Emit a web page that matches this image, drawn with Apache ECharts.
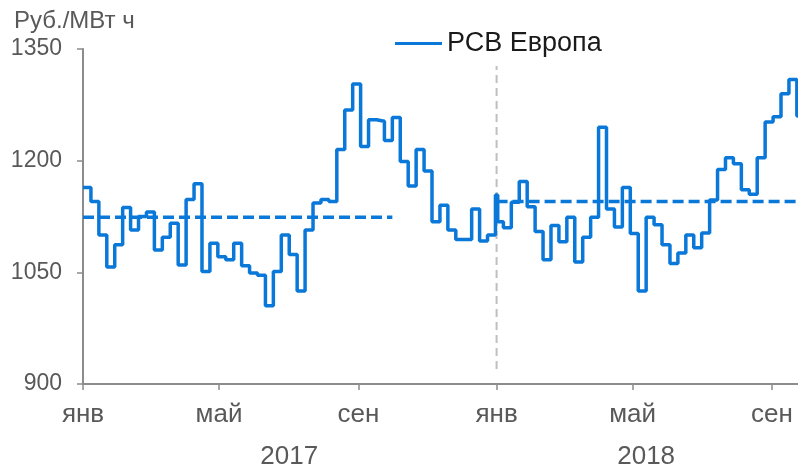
<!DOCTYPE html>
<html>
<head>
<meta charset="utf-8">
<script src="https://cdn.jsdelivr.net/npm/echarts@6/dist/echarts.min.js"></script>
<style>
  html, body { margin: 0; padding: 0; background: #fff; }
  #chart { width: 798px; height: 467px; }
</style>
</head>
<body>
<div id="chart"></div>
<script>
// weekly prices, first week starts 1 Jan 2017 (day 0), one value per 7 days
const weekPrices = [
  1164, 1145, 1100, 1057, 1087, 1137, 1107, 1125, 1131, 1080,
  1097, 1116, 1060, 1148, 1169, 1051, 1089, 1071, 1067, 1089,
  1059, 1049, 1046, 1005, 1051, 1100, 1074, 1025, 1107, 1143,
  1148, 1145, 1215, 1268, 1303, 1219, 1255, 1253, 1227, 1258,
  1199, 1166, 1215, 1186, 1118, 1140, 1107, 1094, 1094, 1135,
  1092, 1100, 1118, 1110, 1144, 1172, 1138, 1105, 1067, 1113,
  1091, 1124, 1064, 1097, 1124, 1245, 1135, 1111, 1164, 1102,
  1025, 1124, 1114, 1087, 1062, 1076, 1100, 1083, 1103, 1147,
  1188, 1204, 1196, 1161, 1155, 1204, 1252, 1259, 1290, 1309,
  1260
]
const WEEK = 7
// short new-year spike (days since 1 Jan 2017)
const spikeDays = [364, 366]
const spikeValues = [1154, 1118]

// yearly averages: [start day, end day, value]
const avg2017 = [0, 273, 1124]
const avg2018 = [365, 631, 1145]
const yearDivider = [365, 920, 1327]

const monthTickDays = [0, 120, 243, 365, 485, 608]
const monthLabels = ['янв', 'май', 'сен', 'янв', 'май', 'сен']
const yearLabelDays = [182, 497]
const yearLabels = ['2017', '2018']
const xMax = 631

const FONT = "'Liberation Sans', Arial, sans-serif"
const GREY = '#595959'
const AXIS = '#8c8c8c'
const BLUE = '#0a78d8'

const priceData = []
weekPrices.forEach((v, i) => {
  const d = i * WEEK
  if (d === 364) {
    spikeDays.forEach((sd, k) => priceData.push([sd, spikeValues[k]]))
  } else {
    priceData.push([d, v])
  }
})
priceData.push([xMax, weekPrices[weekPrices.length - 1]])

const chart = echarts.init(document.getElementById('chart'), null, { renderer: 'canvas' })

chart.setOption({
  animation: false,
  backgroundColor: '#fff',
  textStyle: { fontFamily: FONT },
  graphic: [{
    type: 'text', left: 14, top: 9,
    style: { text: 'Руб./МВт ч', font: `24px ${FONT}`, fill: GREY }
  }],
  legend: {
    left: 390, top: 25, itemWidth: 47, itemHeight: 14, itemGap: 10,
    data: [{ name: 'РСВ Европа', icon: 'path://M0,6 L47,6 L47,9 L0,9 Z' }],
    textStyle: { fontSize: 27, color: '#1a1a1a', fontFamily: FONT, padding: [0, 0, 0, 0] }
  },
  grid: { left: 83, right: 0, top: 49, bottom: 83, outerBoundsMode: 'none', containLabel: false },
  xAxis: [{
    type: 'value', min: 0, max: xMax,
    axisLine: { show: true, lineStyle: { color: AXIS, width: 2 } },
    axisTick: { show: true, length: 6, customValues: monthTickDays, lineStyle: { color: AXIS, width: 1.5 } },
    axisLabel: {
      customValues: monthTickDays, margin: 18, fontSize: 26, color: GREY, fontFamily: FONT,
      formatter: v => monthLabels[monthTickDays.indexOf(v)] || ''
    },
    splitLine: { show: false }
  }, {
    type: 'value', min: 0, max: xMax, position: 'bottom', offset: 48,
    axisLine: { show: false }, axisTick: { show: false },
    axisLabel: {
      customValues: yearLabelDays, margin: 12, fontSize: 26, color: GREY, fontFamily: FONT,
      formatter: v => yearLabels[yearLabelDays.indexOf(v)] || ''
    },
    splitLine: { show: false }
  }],
  yAxis: {
    type: 'value', min: 900, max: 1350, interval: 150,
    axisLine: { show: true, lineStyle: { color: AXIS, width: 2 } },
    axisTick: { show: true, length: 6, lineStyle: { color: AXIS, width: 1.5 } },
    axisLabel: { margin: 21, fontSize: 23, color: GREY, fontFamily: FONT, formatter: v => String(v) },
    splitLine: { show: false }
  },
  series: [{
    name: 'divider', type: 'line', silent: true, symbol: 'none',
    data: [[yearDivider[0], yearDivider[1]], [yearDivider[0], yearDivider[2]]],
    lineStyle: { color: '#bfbfbf', width: 2, type: [8, 5] }
  }, {
    name: 'РСВ Европа', type: 'line', step: 'end', symbol: 'none',
    data: priceData,
    lineStyle: { color: BLUE, width: 3.5 }, itemStyle: { color: BLUE }
  }, {
    name: 'avg2017', type: 'line', silent: true, symbol: 'none',
    data: [[avg2017[0], avg2017[2]], [avg2017[1], avg2017[2]]],
    lineStyle: { color: BLUE, width: 3.5, type: [11, 5] }
  }, {
    name: 'avg2018', type: 'line', silent: true, symbol: 'none',
    data: [[avg2018[0], avg2018[2]], [avg2018[1], avg2018[2]]],
    lineStyle: { color: BLUE, width: 3.5, type: [11, 5] }
  }]
})
</script>
</body>
</html>
